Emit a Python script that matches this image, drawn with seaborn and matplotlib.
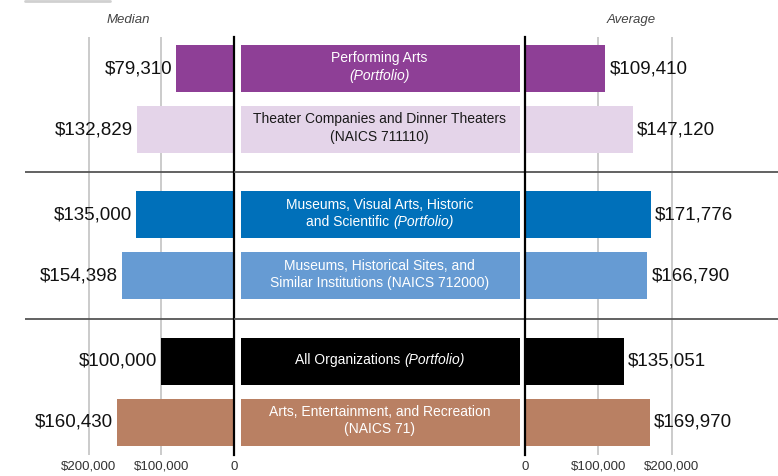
"""
Median vs average salary by discipline - back-to-back bars with centred label boxes
"""

import matplotlib
import matplotlib.pyplot as plt
import pandas as pd
import seaborn as sns
from matplotlib.lines import Line2D
from matplotlib.offsetbox import AnnotationBbox, HPacker, TextArea, VPacker

matplotlib.use("Agg")

# text between * * is italic
box_labels = [
    "Performing Arts\n*(Portfolio)*",
    "Theater Companies and Dinner Theaters\n(NAICS 711110)",
    "Museums, Visual Arts, Historic\nand Scientific *(Portfolio)*",
    "Museums, Historical Sites, and\nSimilar Institutions (NAICS 712000)",
    "All Organizations *(Portfolio)*",
    "Arts, Entertainment, and Recreation\n(NAICS 71)",
]
medians = [79310, 132829, 135000, 154398, 100000, 160430]
averages = [109410, 147120, 171776, 166790, 135051, 169970]
colors = ["#8e3f96", "#e4d4e9", "#0070ba", "#669bd3", "#000000", "#b98063"]
text_colors = ["white", "#1a1a1a", "white", "white", "white", "white"]
# row positions: pairs of rows with a wider gap between groups
positions = [0, 1, 2.4, 3.4, 4.8, 5.8]
separators = [1.7, 4.1]
ticks = [0, 100000, 200000]
tick_labels = ["0", "$100,000", "$200,000"]

sns.set_style("white")
plt.rcParams["font.family"] = ["Liberation Sans", "DejaVu Sans"]

df = pd.DataFrame(
    {"label": box_labels, "median": medians, "average": averages, "pos": positions}
)

W, H = 778, 476
fig = plt.figure(figsize=(W / 100, H / 100), dpi=100)


def fig_rect(x0, x1, y0=37, y1=455):
    return [x0 / W, 1 - y1 / H, (x1 - x0) / W, (y1 - y0) / H]


ax_l = fig.add_axes(fig_rect(25, 234))
ax_m = fig.add_axes(fig_rect(234, 525))
ax_r = fig.add_axes(fig_rect(525, 778))

YLIM = (6.34, -0.52)
BAR_H = 0.77

for ax, col, xmax in [(ax_l, "median", 287500), (ax_r, "average", 345000)]:
    sns.barplot(
        data=df,
        x=col,
        y="pos",
        hue="label",
        hue_order=box_labels,
        palette=colors,
        saturation=1,
        orient="y",
        native_scale=True,
        width=BAR_H,
        errorbar=None,
        legend=False,
        linewidth=0,
        ax=ax,
        zorder=2,
    )
    ax.set_ylim(*YLIM)
    ax.set_xlim(0, xmax)
    ax.set_xlabel("")
    ax.set_ylabel("")
    ax.set_yticks([])
    ax.set_xticks(ticks)
    ax.set_xticklabels(tick_labels, fontsize=9.5, color="#333333")
    ax.tick_params(axis="x", length=0, pad=4)
    for t in ticks[1:]:
        ax.axvline(t, color="#bdbdbd", lw=1.1, zorder=0)
    for s in separators:
        ax.axhline(s, color="#555555", lw=1.3, zorder=1)
    for sp in ax.spines.values():
        sp.set_visible(False)

ax_l.invert_xaxis()
ax_l.spines["right"].set_visible(True)
ax_l.spines["right"].set_color("black")
ax_l.spines["right"].set_linewidth(1.6)
ax_r.spines["left"].set_visible(True)
ax_r.spines["left"].set_color("black")
ax_r.spines["left"].set_linewidth(1.6)

# value labels
for v, y in zip(medians, positions):
    ax_l.annotate(
        f"${v:,}", (v, y), xytext=(-3, 0), textcoords="offset points",
        ha="right", va="center", fontsize=13.5, color="#111111",
    )
for v, y in zip(averages, positions):
    ax_r.annotate(
        f"${v:,}", (v, y), xytext=(3, 0), textcoords="offset points",
        ha="left", va="center", fontsize=13.5, color="#111111",
    )

# middle label boxes
ax_m.set_ylim(*YLIM)
ax_m.set_xlim(0, 1)
ax_m.axis("off")
ax_m.barh(positions, 0.959, left=0.024, height=BAR_H, color=colors, linewidth=0)
for s in separators:
    ax_m.axhline(s, color="#555555", lw=1.3, zorder=1)

for label, y, tc in zip(box_labels, positions, text_colors):
    rows = []
    for line in label.split("\n"):
        parts = []
        for i, seg in enumerate(line.split("*")):
            if not seg.strip():
                continue
            parts.append(
                TextArea(
                    seg.strip(),
                    textprops=dict(
                        color=tc, fontsize=10,
                        style="italic" if i % 2 else "normal",
                    ),
                )
            )
        rows.append(HPacker(children=parts, align="baseline", pad=0, sep=3))
    box = VPacker(children=rows, align="center", pad=0, sep=2.5)
    ab = AnnotationBbox(
        box, (0.5, y), xycoords=("axes fraction", "data"),
        frameon=False, box_alignment=(0.5, 0.45), pad=0,
    )
    ax_m.add_artist(ab)

fig.text(128 / W, 1 - 20 / H, "Median", ha="center", va="center",
         style="italic", fontsize=9.5, color="#444444")
fig.text(631 / W, 1 - 20 / H, "Average", ha="center", va="center",
         style="italic", fontsize=9.5, color="#444444")
fig.add_artist(Line2D([25 / W, 110 / W], [1 - 0.5 / H, 1 - 0.5 / H],
                      color="#d0d0d0", lw=2, transform=fig.transFigure))

fig.savefig("out.png", dpi=100)
